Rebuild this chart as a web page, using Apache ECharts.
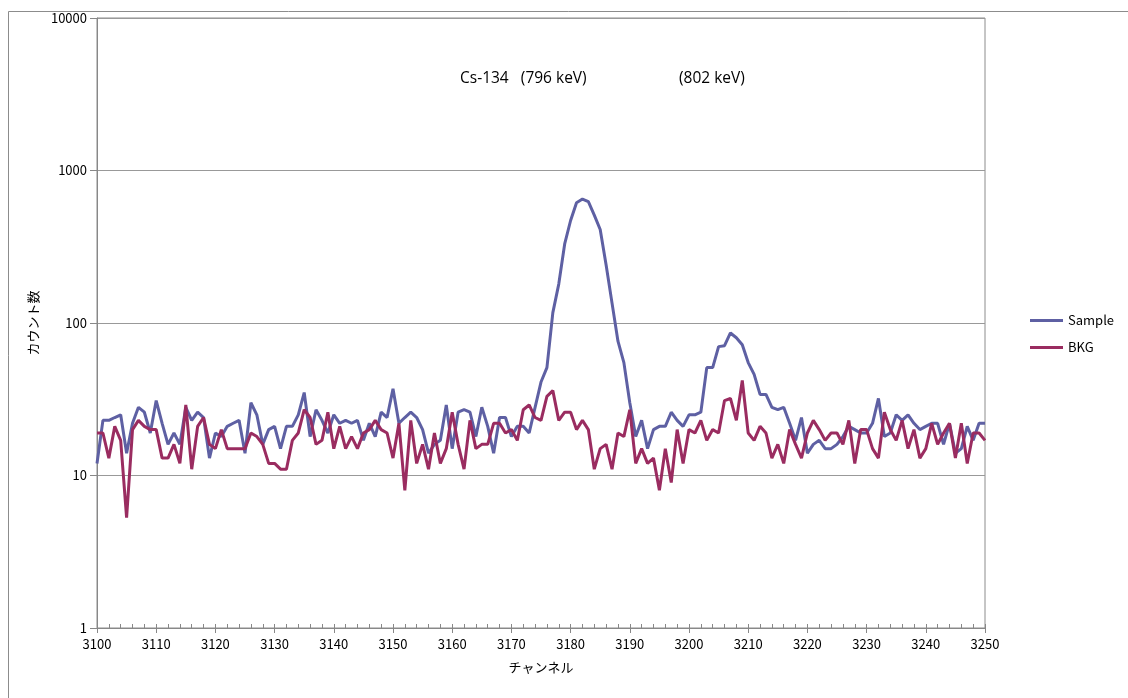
<!DOCTYPE html>
<html>
<head>
<meta charset="utf-8">
<script src="https://cdn.jsdelivr.net/npm/echarts@6/dist/echarts.min.js"></script>
<style>
html,body{margin:0;padding:0;background:#fff;}
#chart{width:1128px;height:698px;}
</style>
</head>
<body>
<div id="chart"></div>
<script>
const startChannel = 3100;
const endChannel = 3250;
const sampleCounts = [
  12,23,23,24,25,14,22,28,26,19,
  31,22,16,19,16,28,23,26,24,13,
  19,18,21,22,23,14,30,25,16,20,
  21,15,21,21,25,35,18,27,23,19,
  25,22,23,22,23,17,22,18,26,24,
  37,22,24,26,24,20,14,16,17,29,
  15,26,27,26,18,28,21,14,24,24,
  18,21,21,19,28,41,51,117,180,330,
  470,615,650,625,510,410,240,135,76,55,
  30,18,23,15,20,21,21,26,23,21,
  25,25,26,51,51,70,71,86,80,72,
  55,46,34,34,28,27,28,22,17,24,
  14,16,17,15,15,16,18,21,20,19,
  19,22,32,18,19,25,23,25,22,20,
  21,22,22,16,22,14,15,21,17,22,22
];
const bkgCounts = [
  19,19,13,21,17,5.3,20,23,21,20,
  20,13,13,16,12,29,11,21,24,16,
  15,20,15,15,15,15,19,18,16,12,
  12,11,11,17,19,27,24,16,17,26,
  15,21,15,18,15,19,20,23,20,19,
  13,22,8,23,12,16,11,19,12,15,
  26,16,11,23,15,16,16,22,22,19,
  20,17,27,29,24,23,33,36,23,26,
  26,20,23,20,11,15,16,11,19,18,
  27,12,15,12,13,8,15,9,20,12,
  20,19,23,17,20,19,31,32,23,42,
  19,17,21,19,13,16,12,20,16,13,
  19,23,20,17,19,19,16,23,12,20,
  20,15,13,26,20,17,23,15,20,13,
  15,22,16,19,22,13,22,12,19,19,17
];
const seriesNames = ['Sample', 'BKG'];
const xAxisName = 'チャンネル';
const yAxisName = 'カウント数';
const annotationLeft = 'Cs-134   (796 keV)';
const annotationRight = '(802 keV)';

function pairs(vals){
  const out = [];
  for (let i = 0; i < vals.length; i++) out.push([startChannel + i, vals[i]]);
  return out;
}

const chart = echarts.init(document.getElementById('chart'), null, {renderer:'canvas'});
const labelFont = '"Noto Sans CJK JP", "Noto Sans", sans-serif';
chart.setOption({
  animation: false,
  backgroundColor: '#ffffff',
  textStyle: {fontFamily: labelFont},
  grid: {left: 97, right: 143, top: 18, bottom: 70, show: true, borderColor: '#8c8c8c', borderWidth: 1},
  xAxis: [{
    type: 'value', min: startChannel, max: endChannel, interval: 10,
    name: xAxisName, nameLocation: 'middle', nameGap: 33,
    nameTextStyle: {color: '#000', fontSize: 13, fontFamily: labelFont},
    axisLine: {show: true, lineStyle: {color: '#888', width: 1}},
    axisTick: {show: true, inside: false, length: 5, lineStyle: {color: '#888'}},
    axisLabel: {color: '#000', fontSize: 13, margin: 10, fontFamily: labelFont, formatter: v => String(v)},
    splitLine: {show: false}
  },{
    type: 'value', min: startChannel, max: endChannel, interval: 2, position: 'bottom',
    axisLine: {show: false},
    axisTick: {show: true, inside: true, length: 4, lineStyle: {color: '#888'}},
    axisLabel: {show: false},
    splitLine: {show: false}
  }],
  yAxis: {
    type: 'log', logBase: 10, min: 1, max: 10000,
    name: yAxisName, nameLocation: 'middle', nameGap: 56, nameRotate: 90,
    nameTextStyle: {color: '#000', fontSize: 13, fontFamily: labelFont},
    axisLine: {show: true, lineStyle: {color: '#888', width: 1}},
    axisTick: {show: true, inside: false, length: 7, lineStyle: {color: '#888'}},
    axisLabel: {color: '#000', fontSize: 13, margin: 10, fontFamily: labelFont, formatter: v => String(Math.round(v))},
    splitLine: {show: true, lineStyle: {color: '#999', width: 1}}
  },
  legend: {
    orient: 'vertical', left: 1030, top: 314, itemGap: 14, padding: 0,
    itemWidth: 33, itemHeight: 3, icon: 'rect',
    textStyle: {color: '#000', fontSize: 13, fontFamily: labelFont},
    data: seriesNames
  },
  graphic: [
    {type: 'rect', left: 6, top: 9, shape: {width: 1140, height: 710}, style: {fill: 'none', stroke: '#8c8c8c', lineWidth: 1}, silent: true},
    {type: 'text', left: 460, top: 71, style: {text: annotationLeft, font: '15.5px "Open Sans", sans-serif', fill: '#000'}},
    {type: 'text', left: 679, top: 71, style: {text: annotationRight, font: '15.5px "Open Sans", sans-serif', fill: '#000'}}
  ],
  series: [
    {name: seriesNames[0], type: 'line', data: pairs(sampleCounts), showSymbol: false, symbol: 'none',
     lineStyle: {color: '#5E60A3', width: 3}, itemStyle: {color: '#5E60A3'}, z: 2},
    {name: seriesNames[1], type: 'line', data: pairs(bkgCounts), showSymbol: false, symbol: 'none',
     lineStyle: {color: '#9A2C60', width: 3}, itemStyle: {color: '#9A2C60'}, z: 3}
  ]
});
</script>
</body>
</html>
